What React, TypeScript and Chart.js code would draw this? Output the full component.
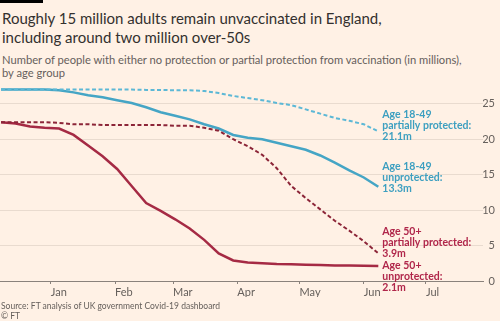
import React, { useEffect, useRef } from "react";
import { Chart, registerables } from "chart.js";

Chart.register(...registerables);

// ---- data (millions) ----
const dates = [
  "2020-12-08", "2020-12-15", "2020-12-22", "2020-12-29", "2021-01-05", "2021-01-12",
  "2021-01-19", "2021-01-26", "2021-02-02", "2021-02-09", "2021-02-16", "2021-02-23",
  "2021-03-02", "2021-03-09", "2021-03-16", "2021-03-23", "2021-03-30", "2021-04-06",
  "2021-04-13", "2021-04-20", "2021-04-27", "2021-05-04", "2021-05-11", "2021-05-18",
  "2021-05-25", "2021-06-01", "2021-06-08",
];
const age1849Partial = [
  27.0, 27.0, 27.0, 27.0, 27.0, 27.0, 27.0, 27.0, 27.0, 27.0, 26.95, 26.95,
  26.9, 26.9, 26.8, 26.5, 26.1, 25.8, 25.5, 25.1, 24.8, 24.2, 23.6, 23.0,
  22.6, 22.1, 21.1,
];
const age1849Unprotected = [
  27.0, 27.0, 27.0, 27.0, 26.9, 26.6, 26.2, 25.9, 25.5, 25.1, 24.5, 23.8,
  23.3, 22.8, 22.1, 21.5, 20.6, 20.2, 20.0, 19.5, 19.0, 18.5, 17.7, 16.7,
  15.6, 14.6, 13.3,
];
const age50Partial = [
  22.4, 22.4, 22.4, 22.4, 22.3, 22.1, 22.1, 22.0, 22.0, 22.0, 22.0, 22.0,
  21.9, 21.9, 21.6, 21.2, 20.0, 19.0, 17.8, 15.9, 13.4, 11.7, 10.1, 8.5,
  7.1, 5.6, 3.9,
];
const age50Unprotected = [
  22.4, 22.2, 21.8, 21.6, 21.5, 20.6, 19.1, 17.6, 15.8, 13.4, 11.0, 9.9,
  8.7, 7.4, 5.8, 3.9, 2.9, 2.6, 2.5, 2.4, 2.35, 2.3, 2.25, 2.2,
  2.2, 2.15, 2.1,
];
const monthTicks = ["2021-01-01", "2021-02-01", "2021-03-01", "2021-04-01", "2021-05-01", "2021-06-01", "2021-07-01"];
const monthLabels = ["Jan", "Feb", "Mar", "Apr", "May", "Jun", "Jul"];
const yTicks = [0, 5, 10, 15, 20, 25];
const endLabels = [
  ["Age 18-49", "partially protected:", "21.1m"],
  ["Age 18-49", "unprotected:", "13.3m"],
  ["Age 50+", "partially protected:", "3.9m"],
  ["Age 50+", "unprotected:", "2.1m"],
];

const dayOf = (s: string) => {
  const [y, m, d] = s.split("-").map(Number);
  return (Date.UTC(y, m - 1, d) - Date.UTC(2021, 0, 1)) / 86400000;
};

const BLUE_DASH = "#5cb8d6";
const BLUE = "#45a5c5";
const RED_DASH = "#8c2538";
const RED = "#a52a44";
const BLUE_TEXT = "#3d9fc0";
const RED_TEXT = "#b0264a";
const FONT = "Lato, 'Open Sans', sans-serif";

const labelOffsets = [-17, -20, -22, 0];
const labelColors = [BLUE_TEXT, BLUE_TEXT, RED_TEXT, RED_TEXT];

const endLabelPlugin = {
  id: "endLabels",
  afterDatasetsDraw(chart: any) {
    const ctx = chart.ctx;
    ctx.save();
    ctx.font = `bold 10.5px ${FONT}`;
    ctx.textBaseline = "middle";
    ctx.textAlign = "left";
    chart.data.datasets.forEach((ds: any, i: number) => {
      const meta = chart.getDatasetMeta(i);
      const last = meta.data[meta.data.length - 1];
      if (!last) return;
      const lines = endLabels[ds.labelIndex];
      ctx.fillStyle = labelColors[ds.labelIndex];
      lines.forEach((t: string, j: number) => {
        ctx.fillText(t, last.x + 4, last.y + labelOffsets[ds.labelIndex] + j * 11);
      });
    });
    ctx.restore();
  },
};

export default function App() {
  const ref = useRef<HTMLCanvasElement | null>(null);

  useEffect(() => {
    document.body.style.background = "#FFF1E5";
    const xs = dates.map(dayOf);
    const mk = (vals: number[]) => vals.map((v, i) => ({ x: xs[i], y: v }));
    const chart = new Chart(ref.current as HTMLCanvasElement, {
      type: "line",
      data: {
        datasets: [
          { data: mk(age1849Partial), borderColor: BLUE_DASH, borderWidth: 2, borderDash: [4, 2.5], labelIndex: 0 } as any,
          { data: mk(age50Partial), borderColor: RED_DASH, borderWidth: 2, borderDash: [4, 2.5], labelIndex: 2 } as any,
          { data: mk(age1849Unprotected), borderColor: BLUE, borderWidth: 2.5, labelIndex: 1 } as any,
          { data: mk(age50Unprotected), borderColor: RED, borderWidth: 2.5, labelIndex: 3 } as any,
        ],
      },
      options: {
        responsive: false,
        animation: false,
        devicePixelRatio: 1,
        layout: { padding: { top: 86, right: 5, left: 0, bottom: 24 } },
        elements: { point: { radius: 0 }, line: { tension: 0, borderCapStyle: "butt" } },
        plugins: { legend: { display: false }, tooltip: { enabled: false }, title: { display: false } },
        scales: {
          x: {
            type: "linear",
            min: -24.5,
            max: 208.5,
            afterBuildTicks: (scale: any) => {
              scale.ticks = monthTicks.map((m) => ({ value: dayOf(m) }));
            },
            afterFit: (scale: any) => {
              scale.height = 16;
            },
            grid: { drawOnChartArea: false, drawTicks: true, tickLength: 3, color: "#8a827c" },
            border: { display: true, color: "#8a827c", width: 1 },
            ticks: {
              autoSkip: false,
              maxRotation: 0,
              align: "start",
              padding: 2,
              color: "#66605c",
              font: { family: FONT, size: 11 },
              callback: (_v: any, i: number) => monthLabels[i],
            },
          },
          y: {
            type: "linear",
            position: "right",
            min: 0,
            max: 27.5,
            afterBuildTicks: (scale: any) => {
              scale.ticks = yTicks.map((v) => ({ value: v }));
            },
            afterFit: (scale: any) => {
              scale.width = 12;
            },
            grid: {
              drawTicks: false,
              color: (c: any) => (c.tick && c.tick.value === 0 ? "rgba(0,0,0,0)" : "#e9dbcf"),
            },
            border: { display: false },
            ticks: {
              padding: 0,
              crossAlign: "far",
              color: "#66605c",
              font: { family: FONT, size: 11 },
            },
          },
        },
      },
      plugins: [endLabelPlugin],
    } as any);
    return () => chart.destroy();
  }, []);

  return (
    <div style={{ position: "absolute", left: 0, top: 0, width: 500, height: 321, background: "#FFF1E5", overflow: "hidden", fontFamily: FONT }}>
      <div style={{ position: "absolute", left: 0, top: 0, width: 43, height: 3, background: "#000" }} />
      <div style={{ position: "absolute", left: 2, top: 9, fontSize: 15, lineHeight: "19px", color: "#33302e", whiteSpace: "nowrap" }}>
        <div>Roughly 15 million adults remain unvaccinated in England,</div>
        <div>including around two million over-50s</div>
      </div>
      <div style={{ position: "absolute", left: 2, top: 53, fontSize: 11.2, lineHeight: "13px", color: "#66605c", whiteSpace: "nowrap" }}>
        <div>Number of people with either no protection or partial protection from vaccination (in millions),</div>
        <div>by age group</div>
      </div>
      <canvas ref={ref} width={500} height={321} style={{ position: "absolute", left: 0, top: 0, width: 500, height: 321 }} />
      <div style={{ position: "absolute", left: 1, top: 301, fontSize: 8.5, lineHeight: "10px", color: "#66605c", whiteSpace: "nowrap" }}>
        <div>Source: FT analysis of UK government Covid-19 dashboard</div>
        <div>© FT</div>
      </div>
    </div>
  );
}
